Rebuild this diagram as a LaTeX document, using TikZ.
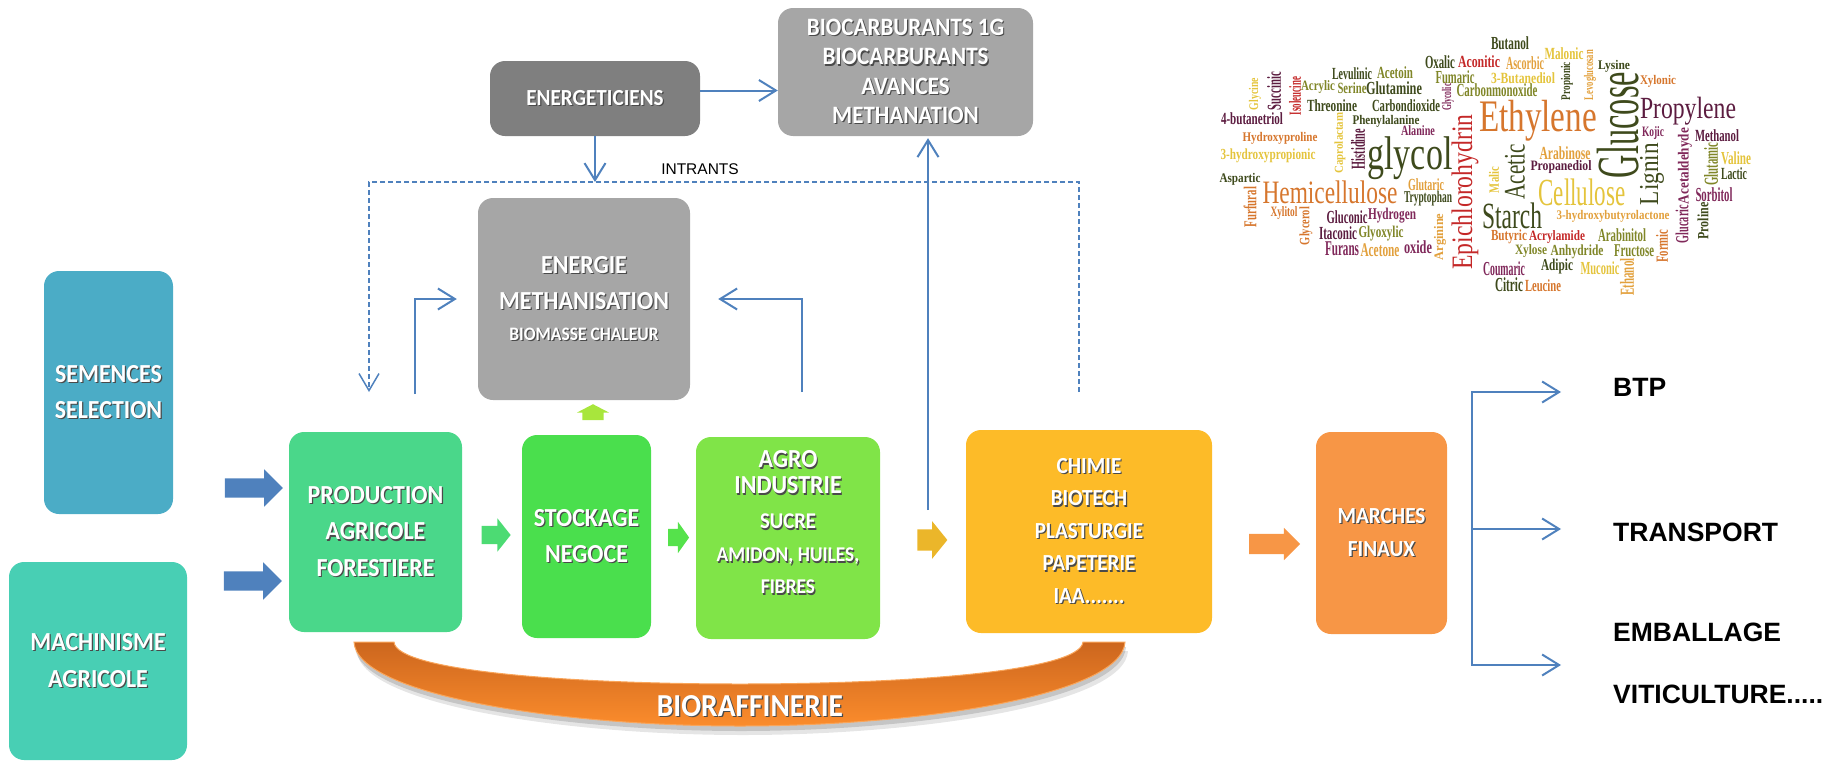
\documentclass[tikz,border=0pt]{standalone}
\usepackage{fontspec}
\setmainfont{Carlito}
\newfontfamily\boxfont{Carlito}[FakeStretch=0.92]
\newfontfamily\labfont{Liberation Sans}
\newfontfamily\cloudfont{Liberation Serif}
\usetikzlibrary{arrows.meta,shapes.arrows,positioning}

\definecolor{lineblue}{HTML}{4F81BD}
\definecolor{energgray}{HTML}{7F7F7F}
\definecolor{boxgray}{HTML}{A6A6A6}
\definecolor{semblue}{HTML}{4BACC6}
\definecolor{machteal}{HTML}{48CFB4}
\definecolor{prodgreen}{HTML}{4AD78A}
\definecolor{stockgreen}{HTML}{4ADF4D}
\definecolor{agrolime}{HTML}{80E448}
\definecolor{chimamber}{HTML}{FDBB28}
\definecolor{marchorange}{HTML}{F79646}
\definecolor{arrgreen}{HTML}{4CDB73}
\definecolor{arrgreenb}{HTML}{55E24B}
\definecolor{arryellow}{HTML}{EBB62A}
\definecolor{uplime}{HTML}{A8E63C}
\definecolor{biotop}{HTML}{CC661E}
\definecolor{biobot}{HTML}{FB8C2C}
\definecolor{bioedge}{HTML}{F9A55A}
\definecolor{txtshadow}{HTML}{4A4A4A}
% word cloud palette
\definecolor{cdolive}{RGB}{62,74,28}
\definecolor{colive}{RGB}{128,134,40}
\definecolor{cyellow}{RGB}{228,196,60}
\definecolor{cyorange}{RGB}{226,160,60}
\definecolor{corange}{RGB}{214,118,45}
\definecolor{cred}{RGB}{196,40,40}
\definecolor{cpurple}{RGB}{128,40,90}
\definecolor{cdpurple}{RGB}{92,28,64}

\newcommand{\shd}[1]{\makebox[0pt][l]{\kern1.2pt\raisebox{-1.2pt}{\textcolor{txtshadow}{#1}}}#1}

\begin{document}
\begin{tikzpicture}[x=1pt,y=-1pt,
  bloc/.style={rounded corners=15pt, inner sep=2pt, align=center, text=white},
  bigtxt/.style={font=\boxfont\bfseries\fontsize{26}{36.5}\selectfont},
  midtxt/.style={font=\boxfont\bfseries\fontsize{23}{32.5}\selectfont},
  conn/.style={draw=lineblue, line width=2pt, -{Straight Barb[length=17pt,width=21pt]}},
  plainline/.style={draw=lineblue, line width=2pt, line cap=rect},
  intrant/.style={draw=lineblue, line width=1.5pt, dash pattern=on 5pt off 3pt},
  fatarrow/.style={single arrow, draw=none, inner xsep=0pt, single arrow head extend=#1},
  fatarrow/.default=8pt,
  market/.style={anchor=west, inner sep=0pt, font=\labfont\bfseries\fontsize{26.5}{30}\selectfont},
  cloudword/.style={inner sep=0pt},
  crshA/.style={fill=black, opacity=0.10},
  crshB/.style={fill=black, opacity=0.14},
  crmain/.style={top color=biotop, bottom color=biobot, draw=bioedge, line width=1pt}]
\useasboundingbox (0,0) rectangle (1833,763);

	% Bioraffinerie crescent (with soft shadow)
	\foreach \dx/\dy/\crs in {3/9/crshA,1/5/crshB,0/0/crmain}
	  \path[\crs, shift={(\dx,\dy)}] (354,642) -- (394,642) .. controls (396,672) and (580,684) .. (740,684) .. controls (900,684) and (1080,672) .. (1083,642) -- (1125,642) .. controls (1122,695) and (920,726) .. (740,726) .. controls (560,726) and (357,695) .. (354,642) -- cycle;
	\node[font=\boxfont\bfseries\fontsize{32}{36}\selectfont, text=white] (biotxt) at (750,707) {\shd{BIORAFFINERIE}};

	% Boxes
	\node[bloc, midtxt, fill=energgray, minimum width=210pt, minimum height=75pt] (energ) at (595,98.5) {\shd{ENERGETICIENS}};
	\node[bloc, font=\boxfont\bfseries\fontsize{25}{29.2}\selectfont, fill=boxgray, minimum width=255pt, minimum height=128pt] (biocarb) at (905.5,72) {\shd{BIOCARBURANTS 1G}\\\shd{BIOCARBURANTS}\\\shd{AVANCES}\\\shd{METHANATION}};
	\node[bloc, bigtxt, fill=boxgray, minimum width=212pt, minimum height=202pt] (energie) at (584,299) {\shd{ENERGIE}\\\shd{METHANISATION}\\[-5.5pt]\fontsize{19}{36.5}\selectfont\shd{BIOMASSE CHALEUR}};
	\node[bloc, bigtxt, fill=semblue, minimum width=129pt, minimum height=243pt] (semences) at (108.5,392.5) {\shd{SEMENCES}\\\shd{SELECTION}};
	\node[bloc, bigtxt, fill=machteal, minimum width=178pt, minimum height=198pt] (machin) at (98,661) {\shd{MACHINISME}\\\shd{AGRICOLE}};
	\node[bloc, bigtxt, fill=prodgreen, minimum width=173pt, minimum height=200pt] (prod) at (375.5,532) {\shd{PRODUCTION}\\\shd{AGRICOLE}\\\shd{FORESTIERE}};
	\node[bloc, bigtxt, fill=stockgreen, minimum width=129pt, minimum height=203pt] (stock) at (586.5,536.5) {\shd{STOCKAGE}\\\shd{NEGOCE}};
	\node[bloc, fill=agrolime, minimum width=184pt, minimum height=202pt] (agro) at (788,538) {};
	\node[bloc, bigtxt] (agrotxt) at ([yshift=15pt]agro.center) {\shd{AGRO}\\[-10.5pt]\shd{INDUSTRIE}\\[-1.5pt]\fontsize{22.5}{36.5}\selectfont\shd{SUCRE}\\[-3.5pt]\fontsize{21}{36.5}\selectfont\shd{AMIDON, HUILES,}\\[-4.5pt]\fontsize{21}{36.5}\selectfont\shd{FIBRES}};
	\node[bloc, midtxt, fill=chimamber, minimum width=246pt, minimum height=203pt] (chimie) at (1089,531.5) {\shd{CHIMIE}\\\shd{BIOTECH}\\\shd{PLASTURGIE}\\\shd{PAPETERIE}\\\shd{IAA.......}};
	\node[bloc, midtxt, fill=marchorange, minimum width=131pt, minimum height=202pt] (marches) at (1381.5,533) {\shd{MARCHES}\\\shd{FINAUX}};

	% Block arrows
	\node[fatarrow=9pt, inner ysep=9.5pt, fill=lineblue, minimum height=58pt] (semarr) at (249,488) {};
	\node[fatarrow=9pt, inner ysep=9.5pt, fill=lineblue, minimum height=58pt] (macharr) at (248,581) {};
	\node[fatarrow=7.5pt, inner ysep=9pt, single arrow tip angle=103, fill=arrgreen, minimum height=29pt] (prodarr) at (492.5,535) {};
	\node[fatarrow=7pt, inner ysep=8.5pt, single arrow tip angle=109, fill=arrgreenb, minimum height=21pt] (stockarr) at (675.5,537.5) {};
	\node[fatarrow=8pt, inner ysep=10.5pt, single arrow tip angle=102, fill=arryellow, minimum height=30pt] (agroarr) at (928,540) {};
	\node[fatarrow=6pt, inner ysep=10pt, fill=marchorange, minimum height=51pt] (chimarr) at (1269.5,544) {};
	\node[fatarrow=5.5pt, inner ysep=10.5pt, single arrow tip angle=125, fill=uplime, rotate=90, minimum height=16pt] (uparr) at (593,415) {};

	% Intrants loop
	\coordinate (intl) at (369,182);
	\coordinate (intr) at (1079,182);
	\coordinate (prodin) at (369,392);
	\coordinate (chimout) at (1079,392);
	\draw[intrant, -{Straight Barb[length=17pt,width=20pt]}] (chimout) -- (intr) -- (intl) -- (prodin);
	\node[font=\labfont\fontsize{15.5}{18}\selectfont, inner sep=0pt] (intrants) at (700,169) {INTRANTS};
	\draw[conn] (energ.south) -- (energ.south |- intl);
	\draw[conn] ([yshift=8pt]energ.east) -- ([yshift=8pt]energ.east -| biocarb.west);

	% Feedback to energie and biocarburants
	\coordinate (produp) at (415,394);
	\coordinate (agroup) at (802,392);
	\coordinate (chimup) at (928,510);
	\draw[conn, shorten >=21pt] (produp) |- (energie.west);
	\draw[conn, shorten >=28pt] (agroup) |- (energie.east);
	\draw[conn, shorten >=2pt] (chimup) -- (chimup |- biocarb.south);

	% Final markets
	\node[market] (btp) at (1613,387) {BTP};
	\node[market] (transp) at (1613,532) {TRANSPORT};
	\node[market] (emb) at (1613,632) {EMBALLAGE};
	\node[market] (viti) at (1613,694) {VITICULTURE.....};
	\coordinate (fk1) at (1472,392);
	\coordinate (fk2) at (1472,529);
	\coordinate (fk3) at (1472,665);
	\draw[plainline] (fk1) -- (fk3);
	\draw[conn, shorten >=52pt] (fk1) -- (fk1 -| btp.west);
	\draw[conn, shorten >=52pt] (fk2) -- (fk2 -| transp.west);
	\draw[conn, shorten >=52pt] (fk3) -- (fk3 -| emb.west);

	% Word cloud (small words set bold, as in the picture)
	\foreach \px/\py/\bw/\bh/\rot/\col/\word [count=\n] in {
	  1510/43/38/13/0/cdolive/Butanol, 1564/54/39/12/0/cyellow/Malonic,
	  1440/62/30/13/0/cdolive/Oxalic, 1479/62/42/12/0/cred/Aconitic,
	  1525/63/38/13/0/cyorange/Ascorbic, 1352/74/40/12/0/cdolive/Levulinic,
	  1395/73/36/12/0/colive/Acetoin, 1455/77/39/13/0/colive/Fumaric,
	  1523/78/64/11/0/cyellow/3-Butanediol, 1567/81/38/12/90/cdolive/Propionic,
	  1590/75/50/12/90/cyorange/Levoglucosan, 1614/66/32/12/0/cdolive/Lysine,
	  1658/81/36/12/0/corange/Xylonic, 1497/90/81/13/0/colive/Carbonmonoxide,
	  1318/87/34/13/0/colive/Acrylic, 1352/88/29/11/0/colive/Serine,
	  1394/88/56/13/0/cdolive/Glutamine, 1255/94/32/12/90/cyellow/Glycine,
	  1274/91/38/14/90/cdpurple/Succinic, 1295/96/38/12/90/cred/Isoleucine,
	  1332/106/50/12/0/cdolive/Threonine, 1406/106/68/12/0/cdolive/Carbondioxide,
	  1448/97/27/12/90/cpurple/Glycolic, 1252/119/62/12/0/cdpurple/4-butanetriol,
	  1386/121/67/12/0/cdolive/Phenylalanine, 1280/138/75/12/0/corange/Hydroxyproline,
	  1340/143/61/11/90/cyellow/Caprolactam, 1358/149/40/14/90/cdpurple/Histidine,
	  1418/131/34/10/0/cpurple/Alanine, 1410/158.5/85/43/0/cdolive/glycol,
	  1268/156/95/14/0/cyellow/3-hydroxypropionic, 1465/192/155/27/90/cred/Epichlorohydrin,
	  1538/121/118/41/0/corange/Ethylene, 1618/125/106/42/90/cdolive/Glucose,
	  1688/111/96/28/0/cdpurple/Propylene, 1653/133/22/13/0/cpurple/Kojic,
	  1717/136/44/12/0/cdpurple/Methanol, 1685/166/76/14/90/cpurple/Acetaldehyde,
	  1711/164/43/14/90/colive/Glutamic, 1736/158/30/13/0/cyellow/Valine,
	  1734/174/26/12/0/cdolive/Lactic, 1714/195/37/14/0/cpurple/Sorbitol,
	  1703/221/37/11/90/cdolive/Proline, 1682/224/38/13/90/cpurple/Glucaric,
	  1652/174/62/24/90/cdolive/Lignin, 1515/172/55/20/90/cdolive/Acetic,
	  1565/153/51/13/0/cyorange/Arabinose, 1561/167/61/13/0/cdpurple/Propanediol,
	  1494/180/26/10/90/cyellow/Malic, 1582/192/87/27/0/cyellow/Cellulose,
	  1512/216/60/26/0/cdolive/Starch, 1613/216/113/12/0/cyorange/3-hydroxybutyrolactone,
	  1330/192/135/23/0/corange/Hemicellulose, 1240/179/41/12/0/cdolive/Aspartic,
	  1250/207/40/13/90/corange/Furfural, 1284/213/27/13/0/corange/Xylitol,
	  1306/226/38/13/90/corange/Glycerol, 1426/185/36/12/0/cyorange/Glutaric,
	  1428/199/48/15/0/cdolive/Tryptophan, 1347/217/41/13/0/cdpurple/Gluconic,
	  1392/216/48/15/0/cpurple/Hydrogen, 1338/233/38/13/0/cdpurple/Itaconic,
	  1381/234/45/15/0/colive/Glyoxylic, 1342/249/34/14/0/cpurple/Furans,
	  1380/250/39/13/0/cyorange/Acetone, 1418/247/28/13/0/cpurple/oxide,
	  1440/237/47/12/90/cyorange/Arginine, 1509/237/36/14/0/corange/Butyric,
	  1557/237/56/13/0/cred/Acrylamide, 1622/235/48/13/0/colive/Arabinitol,
	  1531/251/32/13/0/colive/Xylose, 1577/252/53/14/0/colive/Anhydride,
	  1634/251/40/12/0/colive/Fructose, 1662/246/33/12/90/corange/Formic,
	  1504/269/42/14/0/cpurple/Coumaric, 1557/267/32/15/0/cdolive/Adipic,
	  1600/268/39/13/0/cyellow/Muconic, 1627/277/37/14/90/cyorange/Ethanol,
	  1509/285/28/14/0/cdolive/Citric, 1543/286/36/12/0/corange/Leucine}
	  \node[cloudword, text=\col, rotate=\rot] (cw\n) at (\px,\py) {\resizebox*{\bw pt}{\bh pt}{\cloudfont\ifdim\bh pt<20pt\bfseries\fi\word}};
\end{tikzpicture}
\end{document}
